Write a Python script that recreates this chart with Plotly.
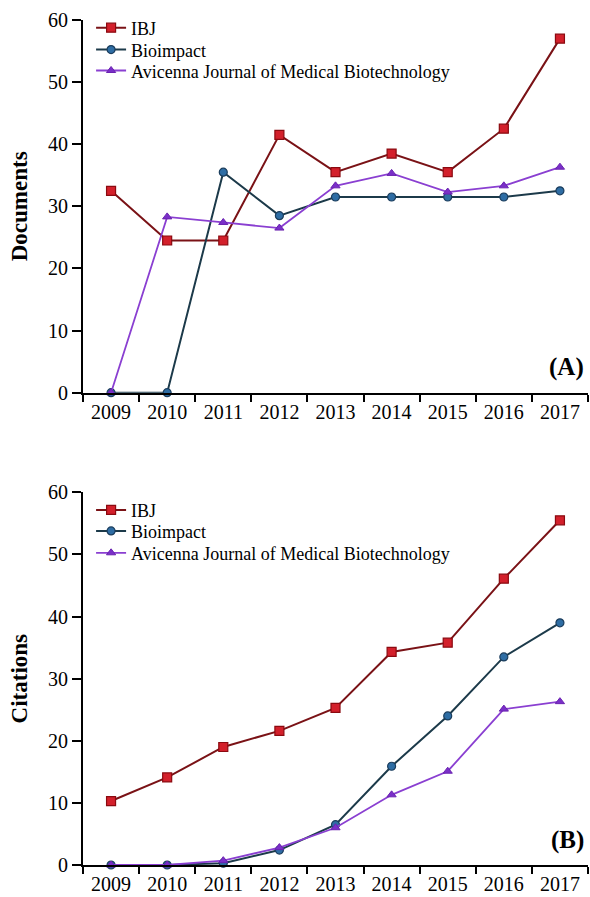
import plotly.graph_objects as go

years = ["2009", "2010", "2011", "2012", "2013", "2014", "2015", "2016", "2017"]

# Panel A: Documents
ibj_docs = [32.5, 24.5, 24.5, 41.5, 35.5, 38.5, 35.5, 42.5, 57.0]
bio_docs = [0, 0, 35.5, 28.5, 31.5, 31.5, 31.5, 31.5, 32.5]
avi_docs = [0, 28.3, 27.4, 26.5, 33.3, 35.3, 32.3, 33.3, 36.3]

# Panel B: Citations
ibj_cit = [10.3, 14.1, 19.0, 21.6, 25.3, 34.3, 35.8, 46.1, 55.5]
bio_cit = [0, 0, 0.3, 2.4, 6.5, 15.9, 24.0, 33.5, 39.0]
avi_cit = [0, 0, 0.7, 2.8, 6.0, 11.3, 15.1, 25.1, 26.3]

series_names = ["IBJ", "Bioimpact", "Avicenna Journal of Medical Biotechnology"]

FONT = "Liberation Serif"
styles = [
    dict(line=dict(color="#7A1216", width=2),
         marker=dict(symbol="square", size=9, color="#D3202B", line=dict(color="#8B0A10", width=1.2))),
    dict(line=dict(color="#1C3A4A", width=2),
         marker=dict(symbol="circle", size=8, color="#2E6DA4", line=dict(color="#1B3D5C", width=1.2))),
    dict(line=dict(color="#8A3FD1", width=1.8),
         marker=dict(symbol="triangle-up", size=8, color="#7A2FC8", line=dict(color="#6A22B0", width=1))),
]

fig = go.Figure()

legend_ids_top = ["legend2", "legend3", "legend4"]
legend_ids_bot = ["legend5", "legend6", "legend7"]

for vals, st, name, lg in zip([ibj_docs, bio_docs, avi_docs], styles, series_names, legend_ids_top):
    fig.add_trace(go.Scatter(x=years, y=vals, name=name, mode="lines+markers",
                             line=st["line"], marker=st["marker"], cliponaxis=False,
                             xaxis="x", yaxis="y", legend=lg, showlegend=True))

for vals, st, name, lg in zip([ibj_cit, bio_cit, avi_cit], styles, series_names, legend_ids_bot):
    fig.add_trace(go.Scatter(x=years, y=vals, name=name, mode="lines+markers",
                             line=st["line"], marker=st["marker"], cliponaxis=False,
                             xaxis="x2", yaxis="y2", legend=lg, showlegend=True))

xaxis_common = dict(type="category", range=[-0.5, 8.5], showline=True, linecolor="black",
                    linewidth=2, ticks="outside", tickson="boundaries", ticklen=7,
                    tickwidth=2, tickcolor="black", showgrid=False, zeroline=False,
                    tickfont=dict(family=FONT, size=20, color="black"))
yaxis_common = dict(range=[0, 60], dtick=10, showline=True, linecolor="black", linewidth=2,
                    ticks="outside", ticklen=9, tickwidth=2, tickcolor="black",
                    showgrid=False, zeroline=False,
                    tickfont=dict(family=FONT, size=20, color="black"))

# legend rows (paper fraction of plot area)
legend_rows_y = {"legend2": 0.9906, "legend3": 0.9646, "legend4": 0.9399,
                 "legend5": 0.4198, "legend6": 0.3950, "legend7": 0.3691}
legend_layouts = {}
for lg, yy in legend_rows_y.items():
    legend_layouts[lg] = dict(x=0.016, y=yy, xanchor="left", yanchor="middle",
                              bgcolor="rgba(0,0,0,0)",
                              font=dict(family=FONT, size=18, color="black"),
                              itemwidth=30)

fig.update_layout(
    width=590, height=897,
    margin=dict(l=83, r=2, t=20, b=29),
    paper_bgcolor="white", plot_bgcolor="white",
    font=dict(family=FONT, color="black"),
    xaxis=dict(domain=[0, 1], anchor="y", **xaxis_common),
    yaxis=dict(domain=[0.559, 1], anchor="x",
               title=dict(text="<b>Documents</b>", font=dict(family=FONT, size=23), standoff=14),
               **yaxis_common),
    xaxis2=dict(domain=[0, 1], anchor="y2", **xaxis_common),
    yaxis2=dict(domain=[0, 0.441], anchor="x2",
                title=dict(text="<b>Citations</b>", font=dict(family=FONT, size=23), standoff=14),
                **yaxis_common),
    annotations=[
        dict(text="<b>(A)</b>", xref="x domain", yref="y domain", x=0.997, y=0.025,
             xanchor="right", yanchor="bottom", showarrow=False,
             font=dict(family=FONT, size=25, color="black")),
        dict(text="<b>(B)</b>", xref="x2 domain", yref="y2 domain", x=0.997, y=0.025,
             xanchor="right", yanchor="bottom", showarrow=False,
             font=dict(family=FONT, size=25, color="black")),
    ],
    **legend_layouts,
)

fig.write_html("out.html", config={"displayModeBar": False},
               post_script="document.body.style.margin='0';document.body.style.overflow='hidden';")
